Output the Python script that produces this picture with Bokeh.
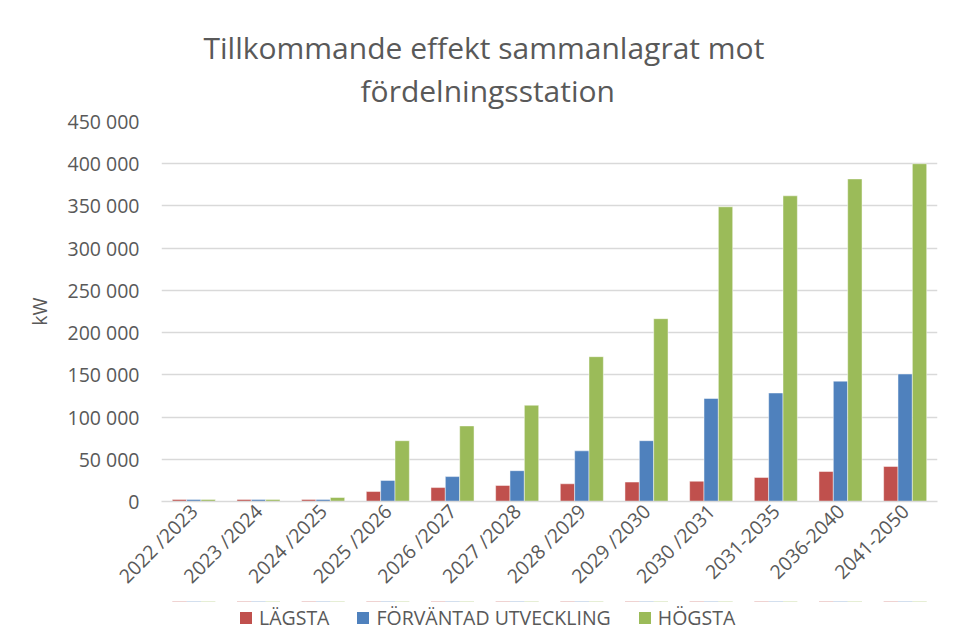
import math
from bokeh.plotting import figure
from bokeh.layouts import column
from bokeh.models import (FactorRange, Range1d, FixedTicker, Title, Legend,
                          LegendItem, ColumnDataSource)
from bokeh.transform import dodge
from bokeh.embed import file_html
from bokeh.resources import INLINE

categories = ["2022 /2023", "2023 /2024", "2024 /2025", "2025 /2026",
              "2026 /2027", "2027 /2028", "2028 /2029", "2029 /2030",
              "2030 /2031", "2031-2035", "2036-2040", "2041-2050"]
lagsta = [2500, 2500, 2500, 11800, 16500, 19000, 21000, 23000,
          24000, 28500, 35500, 41500]
forvantad = [2500, 2500, 2500, 25000, 29500, 36500, 60000, 72000,
             122000, 128500, 142500, 151000]
hogsta = [2500, 2500, 4700, 72000, 89500, 114000, 171500, 216500,
          349000, 362000, 382000, 400000]
series_names = ["LÄGSTA", "FÖRVÄNTAD UTVECKLING", "HÖGSTA"]
y_ticks = [0, 50000, 100000, 150000, 200000, 250000, 300000, 350000,
           400000, 450000]
y_tick_labels = ["0", "50 000", "100 000", "150 000", "200 000",
                 "250 000", "300 000", "350 000", "400 000", "450 000"]
title_line1 = "Tillkommande effekt sammanlagrat mot"
title_line2 = "fördelningsstation"

TXT = "#595959"
FONT = "Open Sans"
FS = "19.5px"
colors = ["#C0504D", "#4F81BD", "#9BBB59"]
value_cols = ["lagsta", "forvantad", "hogsta"]

src = ColumnDataSource(dict(cat=categories, lagsta=lagsta,
                            forvantad=forvantad, hogsta=hogsta))

p = figure(x_range=FactorRange(*categories, range_padding=0),
           y_range=Range1d(0, 450000), frame_width=776, frame_height=380,
           output_backend="svg", toolbar_location=None, title=None,
           min_border_left=161, min_border_right=13,
           min_border_top=121, min_border_bottom=0)
p.outline_line_color = None
p.background_fill_color = "white"
p.border_fill_color = "white"

bw = 0.222
for off, col, c in zip([-bw, 0, bw], value_cols, colors):
    p.vbar(x=dodge("cat", off, range=p.x_range), top=col, width=bw,
           bottom=0, source=src, fill_color=c, line_color="white",
           line_width=0.8, line_alpha=0.6)

# Titles (first added is closest to frame)
t2 = Title(text=title_line2, align="left", offset=199,
           text_font=FONT, text_font_size="30px", text_font_style="normal",
           text_color=TXT, standoff=22)
t1 = Title(text=title_line1, align="left", offset=42,
           text_font=FONT, text_font_size="30px", text_font_style="normal",
           text_color=TXT, standoff=-22)
p.add_layout(t2, "above")
p.add_layout(t1, "above")

# Y axis
p.yaxis.ticker = FixedTicker(ticks=y_ticks)
p.yaxis.major_label_overrides = {t: l for t, l in zip(y_ticks, y_tick_labels)}
p.yaxis.axis_line_color = None
p.yaxis.major_tick_line_color = None
p.yaxis.minor_tick_line_color = None
p.yaxis.major_tick_out = 0
p.yaxis.major_tick_in = 0
p.yaxis.major_label_standoff = 22
p.yaxis.major_label_text_font = FONT
p.yaxis.major_label_text_font_size = FS
p.yaxis.major_label_text_color = TXT
p.yaxis.axis_label = "kW"
p.yaxis.axis_label_text_font = FONT
p.yaxis.axis_label_text_font_size = FS
p.yaxis.axis_label_text_font_style = "normal"
p.yaxis.axis_label_text_color = TXT
p.yaxis.axis_label_standoff = 12

# X axis
p.xaxis.axis_line_color = "#D9D9D9"
p.xaxis.axis_line_width = 1.5
p.xaxis.major_tick_line_color = None
p.xaxis.minor_tick_line_color = None
p.xaxis.major_tick_out = 0
p.xaxis.major_tick_in = 0
p.xaxis.major_label_orientation = math.pi / 4
p.xaxis.major_label_standoff = 6
p.xaxis.major_label_text_font = FONT
p.xaxis.major_label_text_font_size = FS
p.xaxis.major_label_text_color = TXT

# Grid
p.xgrid.grid_line_color = None
p.ygrid.ticker = FixedTicker(ticks=y_ticks)
p.ygrid.grid_line_color = "#D9D9D9"
p.ygrid.grid_line_width = 1.5

# Legend strip below the chart (its own small figure; its bars lie
# outside its visible y range, only their legend swatches show)
lg = figure(width=950, height=36, output_backend="svg",
            toolbar_location=None, title=None,
            x_range=FactorRange(*categories, range_padding=0),
            y_range=Range1d(-2, -1),
            x_axis_location=None, y_axis_location=None,
            min_border=0)
lg.outline_line_color = None
lg.grid.grid_line_color = None
lg.background_fill_color = "white"
lg.border_fill_color = "white"
leg_renderers = []
for off, col, c in zip([-bw, 0, bw], value_cols, colors):
    leg_renderers.append(lg.vbar(x=dodge("cat", off, range=lg.x_range),
                                 top=col, width=bw, bottom=0, source=src,
                                 fill_color=c, line_color=None))
legend = Legend(items=[LegendItem(label=n, renderers=[r])
                       for n, r in zip(series_names, leg_renderers)],
                orientation="horizontal", location=(77, 6),
                glyph_width=15, glyph_height=15, label_standoff=6,
                spacing=26, padding=0, margin=0,
                label_text_font=FONT, label_text_font_size=FS,
                label_text_color=TXT, border_line_color=None,
                background_fill_alpha=0)
lg.add_layout(legend, "center")

layout = column(p, lg, spacing=0)
open("out.html", "w").write(file_html(layout, INLINE))
